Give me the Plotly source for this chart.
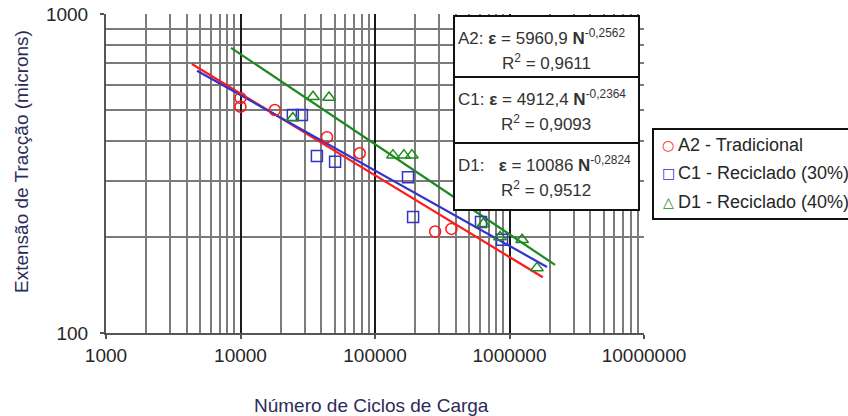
import numpy as np
import plotly.graph_objects as go

# Fatigue tests: number of load cycles and tensile strain (microns)
a2_cycles = [10000, 10000, 18000, 44000, 77000, 280000, 370000]
a2_strain = [545, 512, 500, 411, 366, 208, 212]

c1_cycles = [24500, 28600, 37000, 50500, 176000, 192000, 614000, 880000]
c1_strain = [482, 482, 359, 344, 308, 231, 223, 196]

d1_cycles = [24500, 34600, 45500, 136000, 164000, 188000, 640000, 850000, 1240000, 1600000]
d1_strain = [472, 550, 547, 361, 361, 361, 220, 200, 196, 160]

# Fatigue laws  eps = k * N^n  and their R^2
a2_law = (5960.9, -0.2562, 0.9611)
c1_law = (4912.4, -0.2364, 0.9093)
d1_law = (10086, -0.2824, 0.9512)

# Cycle span over which each law is drawn
a2_span = (4350, 1.77e6)
c1_span = (4750, 1.9e6)
d1_span = (8500, 2.18e6)

series_names = ["A2 - Tradicional", "C1 - Reciclado (30%)", "D1 - Reciclado (40%)"]
series_codes = ["A2", "C1", "D1"]

x_tick_vals = [1e3, 1e4, 1e5, 1e6, 1e7]
x_tick_text = ["1000", "10000", "100000", "1000000", "10000000"]
y_tick_vals = [100, 1000]
y_tick_text = ["100", "1000"]

x_minor = [m * 10 ** e for e in range(3, 7) for m in range(2, 10)]
y_minor = [m * 100 for m in range(2, 10)]

RED, BLUE, GREEN = "#ff1a1a", "#3333cc", "#1e8a1e"
FONT = "Liberation Sans, Arial, sans-serif"
TXT = "#262626"
TITLE_C = "#2c2c5a"

W, H = 848, 416
ML, MR, MT, MB = 106, 204, 14, 83
X0, X1, Y0, Y1 = ML, W - MR, MT, H - MB


def px(x):
    return (x - X0) / (X1 - X0)


def py(y):
    return 1 - (y - Y0) / (Y1 - Y0)


def dec(v):
    return str(v).replace(".", ",")


def law_curve(law, span):
    k, n, _ = law
    N = np.logspace(np.log10(span[0]), np.log10(span[1]), 60)
    return N, k * N ** n


fig = go.Figure()

for law, span, col in [(a2_law, a2_span, RED), (c1_law, c1_span, BLUE), (d1_law, d1_span, GREEN)]:
    N, e = law_curve(law, span)
    fig.add_trace(go.Scatter(x=N, y=e, mode="lines", line=dict(color=col, width=2.2),
                             showlegend=False, hoverinfo="skip"))

for name, xs, ys, col, sym in [
    (series_names[0], a2_cycles, a2_strain, RED, "circle-open"),
    (series_names[1], c1_cycles, c1_strain, BLUE, "square-open"),
    (series_names[2], d1_cycles, d1_strain, GREEN, "triangle-up-open"),
]:
    fig.add_trace(go.Scatter(x=xs, y=ys, mode="markers", name=name,
                             marker=dict(symbol=sym, size=11, color=col, line=dict(width=1.5, color=col)),
                             showlegend=False))

shapes = []
annotations = []

# Equation boxes
box_rows = [(16, 77), (77, 143), (143, 210)]
for (top, bot), code, law in zip(box_rows, series_codes, [a2_law, c1_law, d1_law]):
    k, n, r2 = law
    shapes.append(dict(type="rect", xref="paper", yref="paper",
                       x0=px(454), x1=px(639), y0=py(bot), y1=py(top),
                       fillcolor="white", line=dict(color="#111", width=2), layer="above"))
    gap = "\u00a0\u00a0\u00a0" if code == "D1" else "\u00a0"
    line1 = f"{code}:{gap}<b>ε</b> = {dec(k)} <b>N</b><sup>{dec(n)}</sup>"
    line2 = f"R<sup>2</sup> = {dec(r2)}"
    annotations.append(dict(text=line1, xref="paper", yref="paper", x=px(456), y=py(top + 21),
                            xanchor="left", yanchor="middle", showarrow=False,
                            font=dict(family=FONT, size=17, color="#333")))
    annotations.append(dict(text=line2, xref="paper", yref="paper", x=px(546), y=py(top + 46),
                            xanchor="center", yanchor="middle", showarrow=False,
                            font=dict(family=FONT, size=17, color="#333")))

# Legend box
shapes.append(dict(type="rect", xref="paper", yref="paper",
                   x0=px(653), x1=px(870), y0=py(219), y1=py(129),
                   fillcolor="white", line=dict(color="#111", width=2), layer="above"))
legend_syms = ["○", "□", "△"]
legend_cols = [RED, BLUE, GREEN]
legend_y = [145, 173, 202]
for name, s, c, yy in zip(series_names, legend_syms, legend_cols, legend_y):
    annotations.append(dict(text=s, xref="paper", yref="paper", x=px(668), y=py(yy),
                            xanchor="center", yanchor="middle", showarrow=False,
                            font=dict(family="DejaVu Sans", size=14, color=c)))
    annotations.append(dict(text=name, xref="paper", yref="paper", x=px(676), y=py(yy),
                            xanchor="left", yanchor="middle", showarrow=False,
                            font=dict(family=FONT, size=18, color=TXT)))

# Axis titles
annotations.append(dict(text="Número de Ciclos de Carga", xref="paper", yref="paper",
                        x=px(371), y=py(405), xanchor="center", yanchor="middle", showarrow=False,
                        font=dict(family=FONT, size=19, color=TITLE_C)))
annotations.append(dict(text="Extensão de Tracção (microns)", xref="paper", yref="paper",
                        x=px(21), y=py(162), xanchor="center", yanchor="middle", showarrow=False,
                        textangle=-90, font=dict(family=FONT, size=19, color=TITLE_C)))

fig.update_layout(
    width=W, height=H,
    margin=dict(l=ML, r=MR, t=MT, b=MB, pad=0, autoexpand=False),
    paper_bgcolor="white", plot_bgcolor="white",
    showlegend=False,
    shapes=shapes, annotations=annotations,
    xaxis=dict(type="log", range=[3, 7], tickmode="array", tickvals=x_tick_vals, ticktext=x_tick_text,
               automargin=False,
               showgrid=True, gridcolor="#1a1a1a", gridwidth=1.5,
               minor=dict(tickmode="array", tickvals=x_minor, showgrid=True,
                          gridcolor="#7c7c7c", gridwidth=1.6, ticks=""),
               ticks="outside", ticklen=4, tickcolor="#555", tickwidth=1.5,
               showline=True, linecolor="#555", linewidth=2, zeroline=False,
               ticklabelstandoff=0,
               tickfont=dict(family=FONT, size=19, color=TXT)),
    yaxis=dict(type="log", range=[2, 3], tickmode="array", tickvals=y_tick_vals, ticktext=y_tick_text,
               automargin=False,
               showgrid=True, gridcolor="#8a8a8a", gridwidth=1.5,
               minor=dict(tickmode="array", tickvals=y_minor, showgrid=True,
                          gridcolor="#7a7a7a", gridwidth=1.6, ticks=""),
               ticks="outside", ticklen=4, tickcolor="#555", tickwidth=1.5,
               showline=True, linecolor="#555", linewidth=2, zeroline=False,
               ticklabelstandoff=8,
               tickfont=dict(family=FONT, size=19, color=TXT)),
)

fig.write_html("out.html")
